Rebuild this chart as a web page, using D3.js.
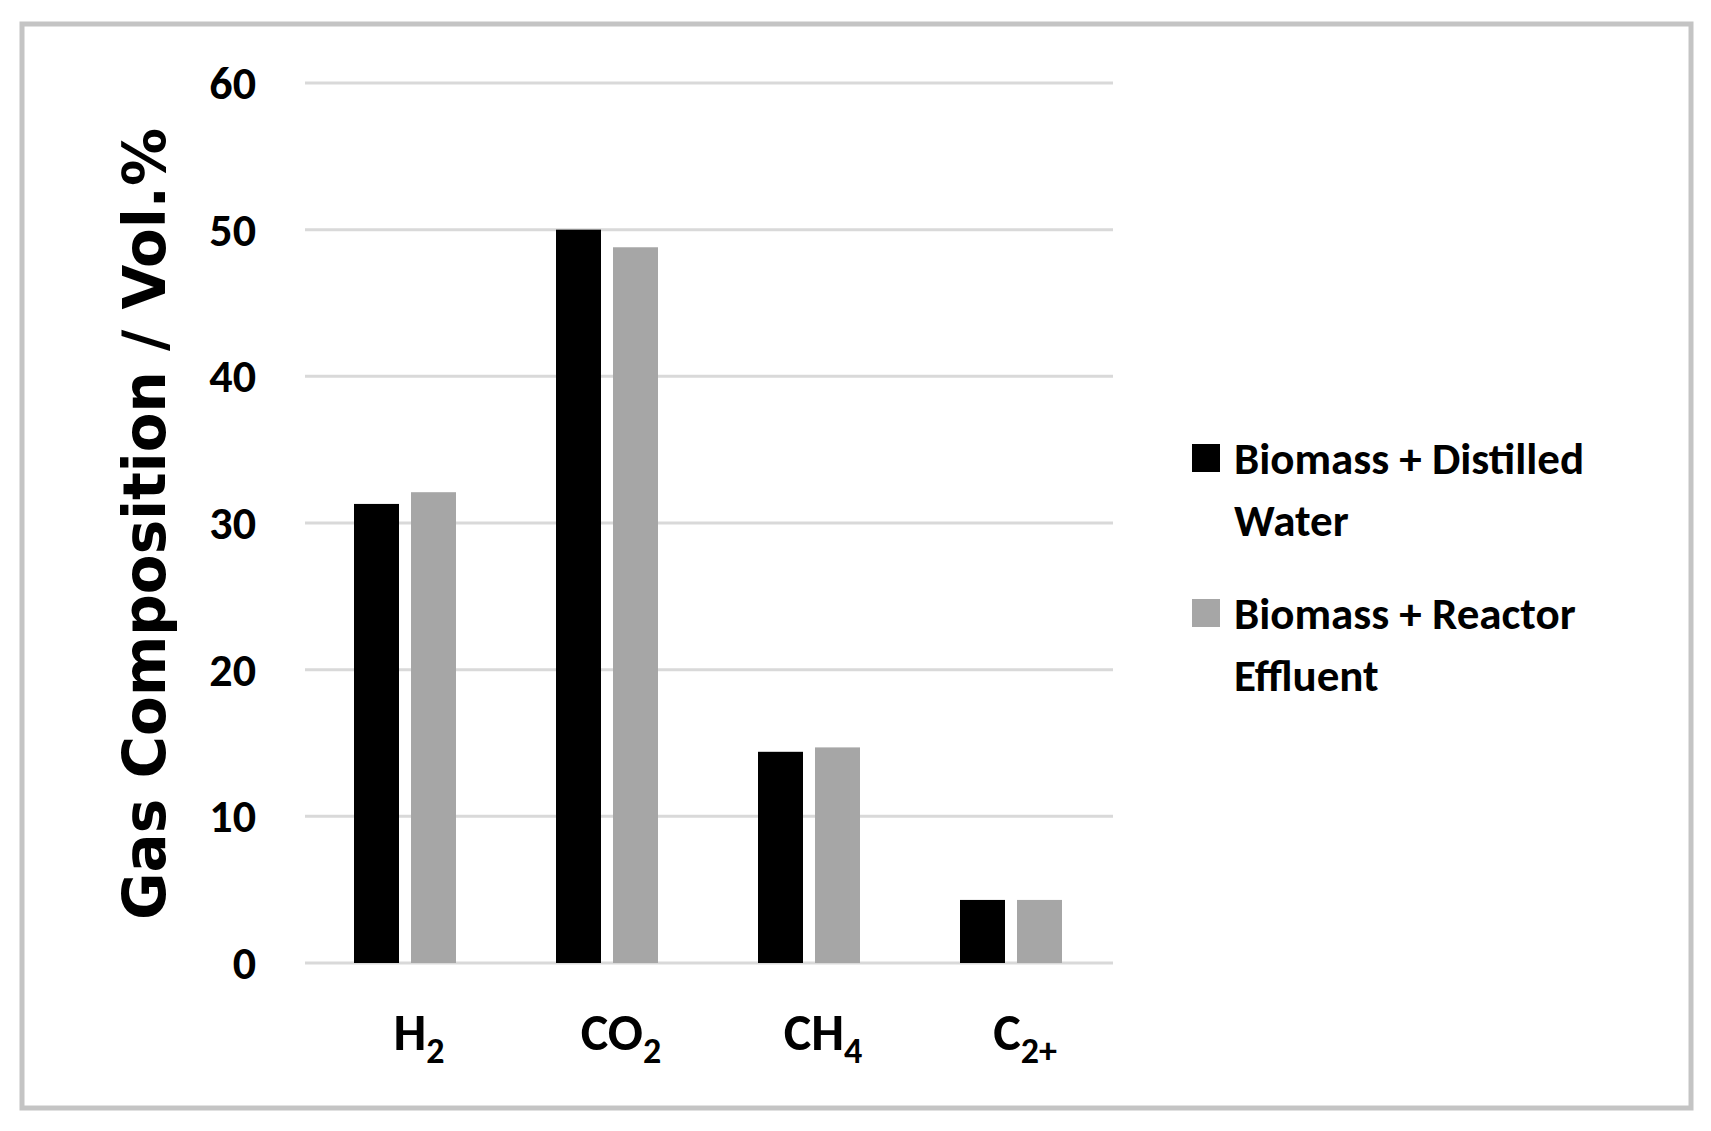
<!DOCTYPE html>
<html><head><meta charset="utf-8">
<script src="https://cdn.jsdelivr.net/npm/d3@7"></script>
<style>body{margin:0;background:#fff}</style>
</head><body><div class="chart"></div>
<script>
const categories = ['H', 'CO', 'CH', 'C']
const subscripts = ['2', '2', '4', '2+']
const seriesNames = ['Biomass + Distilled Water', 'Biomass + Reactor Effluent']
const distilled = [31.3, 50.0, 14.4, 4.3]
const effluent = [32.1, 48.8, 14.7, 4.3]
const yTicks = [0, 10, 20, 30, 40, 50, 60]
const colors = ['#000000', '#a6a6a6']
const legendLines = [['Biomass + Distilled', 'Water'], ['Biomass + Reactor', 'Effluent']]

const width = 1711, height = 1131
const font = 'Calibri, Carlito, "Open Sans", sans-serif'
const svg = d3.select('.chart').append('svg').attr('width', width).attr('height', height)

// frame
svg.append('rect').attr('x', 22).attr('y', 24).attr('width', 1669).attr('height', 1084)
  .attr('fill', 'none').attr('stroke', '#c4c4c4').attr('stroke-width', 5)

const x = d3.scaleBand().domain(categories).range([305, 1113])
const y = d3.scaleLinear().domain([0, 60]).range([963, 83])

// grid
svg.append('g').selectAll('line').data(yTicks).enter().append('line')
  .attr('x1', 305).attr('x2', 1113)
  .attr('y1', d => y(d)).attr('y2', d => y(d))
  .attr('stroke', '#d9d9d9').attr('stroke-width', 3)

svg.append('g').selectAll('text').data(yTicks).enter().append('text')
  .attr('x', 256).attr('y', d => y(d)).attr('dy', '0.35em')
  .attr('text-anchor', 'end').attr('font-family', font).attr('font-weight', 'bold')
  .attr('font-size', 46).text(d => d)

// bars
const barW = 45
const data = [distilled, effluent]
data.forEach((vals, s) => {
  svg.append('g').selectAll('rect').data(vals).enter().append('rect')
    .attr('x', (d, i) => x(categories[i]) + 49 + s * (barW + 12))
    .attr('y', d => y(d))
    .attr('width', barW)
    .attr('height', d => y(0) - y(d))
    .attr('fill', colors[s])
})

// category labels
const cat = svg.append('g').selectAll('text').data(categories).enter().append('text')
  .attr('x', d => x(d) + x.bandwidth() / 2 + 13).attr('y', 1050)
  .attr('text-anchor', 'middle').attr('font-family', font).attr('font-weight', 'bold')
  .attr('font-size', 52)
cat.append('tspan').text(d => d)
cat.append('tspan').attr('font-size', 36).attr('dy', 13).text((d, i) => subscripts[i])

// y title
svg.append('text')
  .attr('transform', 'translate(165,524) rotate(-90)')
  .attr('text-anchor', 'middle').attr('font-family', 'Verdana, "DejaVu Sans", sans-serif')
  .attr('font-weight', 'bold').attr('font-size', 58)
  .text('Gas Composition / Vol.%')

// legend
const leg = svg.append('g').selectAll('g').data(seriesNames).enter().append('g')
  .attr('transform', (d, i) => `translate(1192, ${444 + i * 155})`)
leg.append('rect').attr('width', 28).attr('height', 28).attr('fill', (d, i) => colors[i])
leg.each(function (d, i) {
  d3.select(this).selectAll('text').data(legendLines[i]).enter().append('text')
    .attr('x', 42).attr('y', (t, j) => 30 + j * 62)
    .attr('font-family', font).attr('font-weight', 'bold').attr('font-size', 45)
    .text(t => t)
})
</script></body></html>
